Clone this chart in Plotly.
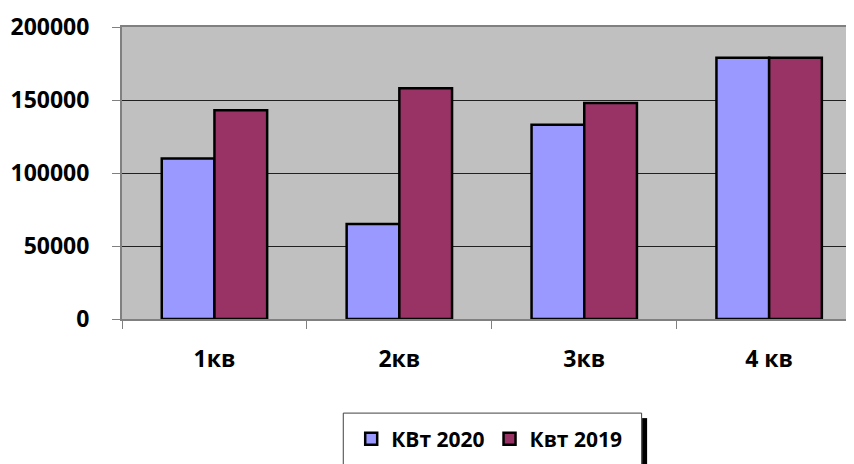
import plotly.graph_objects as go

categories = ["1кв", "2кв", "3кв", "4 кв"]
kwt_2020 = [110000, 65000, 133000, 179000]
kwt_2019 = [143000, 158000, 148000, 179000]
y_ticks = [0, 50000, 100000, 150000, 200000]

# page has an 8px body margin; figure is sized to fill the rest of the window
OFF = 8
W, H = 854 - OFF, 464 - OFF
L, R, T, B = 121.6 - OFF, 0, 27.3 - OFF, 464 - 319
pw, ph = W - L - R, H - T - B

def px(x):  # page x -> paper
    return (x - OFF - L) / pw

def py(y):  # page y -> paper
    return (H - B - (y - OFF)) / ph

font = "Open Sans"

fig = go.Figure()
fig.add_trace(go.Bar(name="КВт 2020", x=categories, y=kwt_2020,
                     marker=dict(color="#9999ff", line=dict(color="black", width=2.5))))
fig.add_trace(go.Bar(name="Квт 2019", x=categories, y=kwt_2019,
                     marker=dict(color="#993366", line=dict(color="black", width=2.5))))

cat_w = 185.0
fig.update_layout(
    width=W, height=H,
    margin=dict(l=L, r=R, t=T, b=B, pad=0, autoexpand=False),
    paper_bgcolor="white", plot_bgcolor="#c0c0c0",
    barmode="group", bargap=0.43, bargroupgap=0,
    font=dict(family=font, size=23, color="black", weight="bold"),
    xaxis=dict(range=[-0.5, -0.5 + pw / cat_w], showgrid=False, automargin=False,
               showline=True, linecolor="#808080", linewidth=2, mirror=True,
               ticks="outside", tickson="boundaries", ticklen=8, tickcolor="#808080",
               tickwidth=1, ticklabelstandoff=18,
               tickfont=dict(family=font, size=23, weight="bold")),
    yaxis=dict(range=[0, 200000], tickvals=y_ticks, tickformat="d", showgrid=True,
               gridcolor="#202020", automargin=False,
               gridwidth=1, showline=True, linecolor="#808080", linewidth=2,
               ticks="outside", ticklen=8, tickcolor="#808080", tickwidth=1,
               ticklabelstandoff=18, zeroline=False,
               tickfont=dict(family=font, size=23, weight="bold")),
    legend=dict(orientation="h", x=px(489), y=py(439), xanchor="center", yanchor="middle",
                bgcolor="rgba(0,0,0,0)", borderwidth=0,
                font=dict(family=font, size=21, weight="bold"), traceorder="normal"),
    showlegend=True,
    shapes=[
        dict(type="rect", xref="paper", yref="paper", x0=px(642), x1=px(647),
             y0=py(418), y1=py(475), fillcolor="black", line=dict(width=0), layer="below"),
        dict(type="rect", xref="paper", yref="paper", x0=px(343), x1=px(641.5),
             y0=py(413), y1=py(475), fillcolor="white", line=dict(color="#404040", width=1),
             layer="below"),
    ],
)
fig.write_html("out.html")
